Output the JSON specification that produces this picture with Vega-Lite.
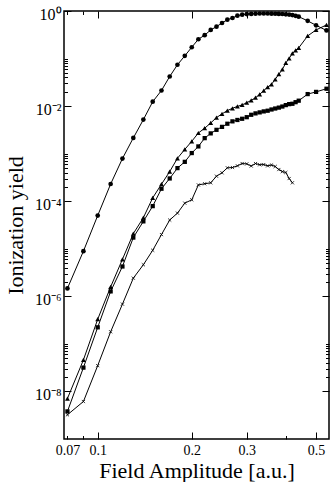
{
  "$schema": "https://vega.github.io/schema/vega-lite/v6.json",
  "width": 265,
  "height": 428,
  "autosize": "none",
  "padding": {"left": 64, "top": 11, "right": 3, "bottom": 43},
  "config": {
    "view": {"stroke": "black", "strokeWidth": 1.5},
    "font": "Liberation Serif",
    "axis": {"grid": false, "domain": false, "tickColor": "black", "tickWidth": 1, "labelColor": "black", "titleColor": "black", "labelFont": "Liberation Serif", "titleFont": "Liberation Serif", "titleFontWeight": "normal", "labelFontSize": 15, "titleFontSize": 22}
  },
  "data": {"values": [
    {"s": "circle", "x": 0.08, "y": 1.47e-6},
    {"s": "circle", "x": 0.09, "y": 8.9e-6},
    {"s": "circle", "x": 0.10, "y": 5.0e-5},
    {"s": "circle", "x": 0.11, "y": 2.3e-4},
    {"s": "circle", "x": 0.12, "y": 7.9e-4},
    {"s": "circle", "x": 0.13, "y": 2.14e-3},
    {"s": "circle", "x": 0.14, "y": 5.2e-3},
    {"s": "circle", "x": 0.15, "y": 1.24e-2},
    {"s": "circle", "x": 0.16, "y": 2.13e-2},
    {"s": "circle", "x": 0.17, "y": 4.2e-2},
    {"s": "circle", "x": 0.18, "y": 7.4e-2},
    {"s": "circle", "x": 0.19, "y": 0.114},
    {"s": "circle", "x": 0.20, "y": 0.173},
    {"s": "circle", "x": 0.21, "y": 0.255},
    {"s": "circle", "x": 0.22, "y": 0.31},
    {"s": "circle", "x": 0.23, "y": 0.40},
    {"s": "circle", "x": 0.24, "y": 0.469},
    {"s": "circle", "x": 0.25, "y": 0.56},
    {"s": "circle", "x": 0.26, "y": 0.657},
    {"s": "circle", "x": 0.27, "y": 0.713},
    {"s": "circle", "x": 0.28, "y": 0.797},
    {"s": "circle", "x": 0.29, "y": 0.836},
    {"s": "circle", "x": 0.30, "y": 0.86},
    {"s": "circle", "x": 0.31, "y": 0.87},
    {"s": "circle", "x": 0.32, "y": 0.88},
    {"s": "circle", "x": 0.33, "y": 0.885},
    {"s": "circle", "x": 0.34, "y": 0.885},
    {"s": "circle", "x": 0.35, "y": 0.885},
    {"s": "circle", "x": 0.36, "y": 0.88},
    {"s": "circle", "x": 0.37, "y": 0.875},
    {"s": "circle", "x": 0.38, "y": 0.87},
    {"s": "circle", "x": 0.39, "y": 0.865},
    {"s": "circle", "x": 0.40, "y": 0.85},
    {"s": "circle", "x": 0.41, "y": 0.84},
    {"s": "circle", "x": 0.42, "y": 0.82},
    {"s": "circle", "x": 0.43, "y": 0.79},
    {"s": "circle", "x": 0.44, "y": 0.76},
    {"s": "circle", "x": 0.47, "y": 0.62},
    {"s": "circle", "x": 0.50, "y": 0.50},
    {"s": "circle", "x": 0.54, "y": 0.39},
    {"s": "triangle", "x": 0.08, "y": 7.1e-9},
    {"s": "triangle", "x": 0.09, "y": 4.6e-8},
    {"s": "triangle", "x": 0.10, "y": 3.3e-7},
    {"s": "triangle", "x": 0.11, "y": 1.58e-6},
    {"s": "triangle", "x": 0.12, "y": 6.0e-6},
    {"s": "triangle", "x": 0.13, "y": 2.08e-5},
    {"s": "triangle", "x": 0.14, "y": 4.5e-5},
    {"s": "triangle", "x": 0.15, "y": 1.18e-4},
    {"s": "triangle", "x": 0.16, "y": 2.28e-4},
    {"s": "triangle", "x": 0.17, "y": 4.2e-4},
    {"s": "triangle", "x": 0.18, "y": 8.0e-4},
    {"s": "triangle", "x": 0.19, "y": 1.23e-3},
    {"s": "triangle", "x": 0.20, "y": 1.82e-3},
    {"s": "triangle", "x": 0.21, "y": 2.72e-3},
    {"s": "triangle", "x": 0.22, "y": 3.43e-3},
    {"s": "triangle", "x": 0.23, "y": 4.42e-3},
    {"s": "triangle", "x": 0.24, "y": 5.74e-3},
    {"s": "triangle", "x": 0.25, "y": 6.86e-3},
    {"s": "triangle", "x": 0.26, "y": 8.05e-3},
    {"s": "triangle", "x": 0.27, "y": 9.0e-3},
    {"s": "triangle", "x": 0.28, "y": 9.86e-3},
    {"s": "triangle", "x": 0.29, "y": 1.06e-2},
    {"s": "triangle", "x": 0.30, "y": 1.18e-2},
    {"s": "triangle", "x": 0.31, "y": 1.32e-2},
    {"s": "triangle", "x": 0.32, "y": 1.50e-2},
    {"s": "triangle", "x": 0.33, "y": 1.77e-2},
    {"s": "triangle", "x": 0.34, "y": 2.12e-2},
    {"s": "triangle", "x": 0.35, "y": 2.51e-2},
    {"s": "triangle", "x": 0.36, "y": 2.88e-2},
    {"s": "triangle", "x": 0.37, "y": 3.65e-2},
    {"s": "triangle", "x": 0.38, "y": 4.69e-2},
    {"s": "triangle", "x": 0.39, "y": 5.9e-2},
    {"s": "triangle", "x": 0.40, "y": 8.1e-2},
    {"s": "triangle", "x": 0.41, "y": 0.101},
    {"s": "triangle", "x": 0.42, "y": 0.128},
    {"s": "triangle", "x": 0.43, "y": 0.149},
    {"s": "triangle", "x": 0.44, "y": 0.168},
    {"s": "triangle", "x": 0.47, "y": 0.299},
    {"s": "triangle", "x": 0.50, "y": 0.40},
    {"s": "triangle", "x": 0.54, "y": 0.51},
    {"s": "square", "x": 0.08, "y": 3.8e-9},
    {"s": "square", "x": 0.09, "y": 3.17e-8},
    {"s": "square", "x": 0.10, "y": 2.23e-7},
    {"s": "square", "x": 0.11, "y": 1.27e-6},
    {"s": "square", "x": 0.12, "y": 4.24e-6},
    {"s": "square", "x": 0.13, "y": 1.72e-5},
    {"s": "square", "x": 0.14, "y": 3.77e-5},
    {"s": "square", "x": 0.15, "y": 7.89e-5},
    {"s": "square", "x": 0.16, "y": 1.83e-4},
    {"s": "square", "x": 0.17, "y": 3.01e-4},
    {"s": "square", "x": 0.18, "y": 4.97e-4},
    {"s": "square", "x": 0.19, "y": 6.73e-4},
    {"s": "square", "x": 0.20, "y": 1.03e-3},
    {"s": "square", "x": 0.21, "y": 1.42e-3},
    {"s": "square", "x": 0.22, "y": 2.12e-3},
    {"s": "square", "x": 0.23, "y": 2.67e-3},
    {"s": "square", "x": 0.24, "y": 3.17e-3},
    {"s": "square", "x": 0.25, "y": 3.66e-3},
    {"s": "square", "x": 0.26, "y": 4.26e-3},
    {"s": "square", "x": 0.27, "y": 4.78e-3},
    {"s": "square", "x": 0.28, "y": 5.11e-3},
    {"s": "square", "x": 0.29, "y": 5.42e-3},
    {"s": "square", "x": 0.30, "y": 5.85e-3},
    {"s": "square", "x": 0.31, "y": 6.57e-3},
    {"s": "square", "x": 0.32, "y": 7.03e-3},
    {"s": "square", "x": 0.33, "y": 7.38e-3},
    {"s": "square", "x": 0.34, "y": 7.74e-3},
    {"s": "square", "x": 0.35, "y": 8.0e-3},
    {"s": "square", "x": 0.36, "y": 8.49e-3},
    {"s": "square", "x": 0.37, "y": 8.9e-3},
    {"s": "square", "x": 0.38, "y": 9.3e-3},
    {"s": "square", "x": 0.39, "y": 9.8e-3},
    {"s": "square", "x": 0.40, "y": 1.05e-2},
    {"s": "square", "x": 0.41, "y": 1.10e-2},
    {"s": "square", "x": 0.42, "y": 1.12e-2},
    {"s": "square", "x": 0.43, "y": 1.21e-2},
    {"s": "square", "x": 0.44, "y": 1.30e-2},
    {"s": "square", "x": 0.47, "y": 1.79e-2},
    {"s": "square", "x": 0.50, "y": 1.99e-2},
    {"s": "square", "x": 0.54, "y": 2.32e-2},
    {"s": "cross", "x": 0.08, "y": 3.23e-9},
    {"s": "cross", "x": 0.09, "y": 6.14e-9},
    {"s": "cross", "x": 0.10, "y": 3.49e-8},
    {"s": "cross", "x": 0.11, "y": 1.80e-7},
    {"s": "cross", "x": 0.12, "y": 6.86e-7},
    {"s": "cross", "x": 0.13, "y": 2.41e-6},
    {"s": "cross", "x": 0.14, "y": 4.62e-6},
    {"s": "cross", "x": 0.15, "y": 9.3e-6},
    {"s": "cross", "x": 0.16, "y": 1.99e-5},
    {"s": "cross", "x": 0.17, "y": 4.02e-5},
    {"s": "cross", "x": 0.18, "y": 5.62e-5},
    {"s": "cross", "x": 0.19, "y": 9.12e-5},
    {"s": "cross", "x": 0.20, "y": 1.07e-4},
    {"s": "cross", "x": 0.21, "y": 2.2e-4},
    {"s": "cross", "x": 0.22, "y": 2.33e-4},
    {"s": "cross", "x": 0.23, "y": 2.44e-4},
    {"s": "cross", "x": 0.24, "y": 3.36e-4},
    {"s": "cross", "x": 0.25, "y": 3.96e-4},
    {"s": "cross", "x": 0.26, "y": 5.04e-4},
    {"s": "cross", "x": 0.27, "y": 5.11e-4},
    {"s": "cross", "x": 0.28, "y": 5.55e-4},
    {"s": "cross", "x": 0.29, "y": 6.2e-4},
    {"s": "cross", "x": 0.30, "y": 6.1e-4},
    {"s": "cross", "x": 0.31, "y": 5.5e-4},
    {"s": "cross", "x": 0.32, "y": 6.2e-4},
    {"s": "cross", "x": 0.33, "y": 5.85e-4},
    {"s": "cross", "x": 0.34, "y": 5.9e-4},
    {"s": "cross", "x": 0.35, "y": 5.55e-4},
    {"s": "cross", "x": 0.36, "y": 5.77e-4},
    {"s": "cross", "x": 0.37, "y": 5.37e-4},
    {"s": "cross", "x": 0.38, "y": 4.64e-4},
    {"s": "cross", "x": 0.39, "y": 4.2e-4},
    {"s": "cross", "x": 0.40, "y": 4.02e-4},
    {"s": "cross", "x": 0.41, "y": 3.0e-4},
    {"s": "cross", "x": 0.42, "y": 2.44e-4}
  ]},
  "encoding": {
    "x": {"field": "x", "type": "quantitative", "scale": {"type": "log", "domain": [0.078, 0.55], "nice": false, "zero": false}},
    "y": {"field": "y", "type": "quantitative", "scale": {"type": "log", "domain": [1e-9, 1], "nice": false, "zero": false}}
  },
  "layer": [
    {
      "mark": {"type": "line", "color": "black", "strokeWidth": 1, "clip": true},
      "encoding": {
        "detail": {"field": "s"},
        "x": {"field": "x", "type": "quantitative", "axis": {"orient": "bottom", "values": [0.08, 0.1, 0.2, 0.3, 0.5], "ticks": false, "tickSize": 0, "labelPadding": 4, "labelBaseline": "top", "labelFontSize": 14, "labelExpr": "datum.value < 0.085 ? '0.07' : format(datum.value, '.1f')", "title": "Field Amplitude [a.u.]", "titleX": 132.5, "titleY": 38, "titleBaseline": "alphabetic", "titleAnchor": "middle", "titleAlign": "center"}},
        "y": {"field": "y", "type": "quantitative", "axis": {"orient": "left", "values": [1, 0.01, 0.0001, 1e-6, 1e-8], "tickSize": -7, "labelPadding": 10, "labelBaseline": "middle", "labelOffset": 3, "labelFontSize": 16, "labelExpr": "datum.value > 0.5 ? '10⁰' : datum.value > 1e-3 ? '10⁻²' : datum.value > 1e-5 ? '10⁻⁴' : datum.value > 1e-7 ? '10⁻⁶' : '10⁻⁸'", "title": "Ionization yield", "titleAngle": -90, "titleX": -42, "titleY": 214, "titleBaseline": "alphabetic", "titleAlign": "center", "titleAnchor": "middle"}}
      }
    },
    {
      "transform": [{"filter": "datum.s == 'circle'"}],
      "mark": {"type": "point", "shape": "circle", "filled": true, "color": "black", "opacity": 1, "size": 22, "clip": true},
      "encoding": {
        "x": {"field": "x", "type": "quantitative", "axis": {"orient": "bottom", "values": [0.1, 0.2, 0.3, 0.5], "tickSize": -7, "labels": false, "title": null}},
        "y": {"field": "y", "type": "quantitative", "axis": {"orient": "left", "values": [0.02,0.03,0.04,0.05,0.06,0.07,0.08,0.09,0.1,2e-4,3e-4,4e-4,5e-4,6e-4,7e-4,8e-4,9e-4,1e-3,2e-6,3e-6,4e-6,5e-6,6e-6,7e-6,8e-6,9e-6,1e-5,2e-8,3e-8,4e-8,5e-8,6e-8,7e-8,8e-8,9e-8,1e-7], "tickSize": -3.5, "labels": false, "title": null}}
      }
    },
    {
      "transform": [{"filter": "datum.s == 'triangle'"}],
      "mark": {"type": "point", "shape": "triangle-up", "filled": true, "color": "black", "opacity": 1, "size": 24, "clip": true},
      "encoding": {
        "x": {"field": "x", "type": "quantitative", "axis": {"orient": "bottom", "values": [0.08, 0.09, 0.4], "tickSize": -3.5, "labels": false, "title": null}},
        "y": {"field": "y", "type": "quantitative", "axis": {"orient": "right", "values": [1, 0.01, 0.0001, 1e-6, 1e-8], "tickSize": -7, "labels": false, "title": null}}
      }
    },
    {
      "transform": [{"filter": "datum.s == 'square'"}],
      "mark": {"type": "point", "shape": "square", "filled": true, "color": "black", "opacity": 1, "size": 18, "clip": true},
      "encoding": {
        "x": {"field": "x", "type": "quantitative", "axis": {"orient": "top", "values": [0.1, 0.2, 0.3, 0.5], "tickSize": -7, "labels": false, "title": null}},
        "y": {"field": "y", "type": "quantitative", "axis": {"orient": "right", "values": [0.02,0.03,0.04,0.05,0.06,0.07,0.08,0.09,0.1,2e-4,3e-4,4e-4,5e-4,6e-4,7e-4,8e-4,9e-4,1e-3,2e-6,3e-6,4e-6,5e-6,6e-6,7e-6,8e-6,9e-6,1e-5,2e-8,3e-8,4e-8,5e-8,6e-8,7e-8,8e-8,9e-8,1e-7], "tickSize": -3.5, "labels": false, "title": null}}
      }
    },
    {
      "transform": [{"filter": "datum.s == 'cross'"}],
      "mark": {"type": "point", "shape": "M-1,-1L1,1M-1,1L1,-1", "filled": false, "color": "black", "strokeWidth": 0.8, "opacity": 1, "size": 10, "clip": true},
      "encoding": {
        "x": {"field": "x", "type": "quantitative", "axis": {"orient": "top", "values": [0.08, 0.09, 0.4], "tickSize": -3.5, "labels": false, "title": null}},
        "y": {"field": "y", "type": "quantitative", "axis": null}
      }
    }
  ],
  "resolve": {"axis": {"x": "independent", "y": "independent"}}
}
